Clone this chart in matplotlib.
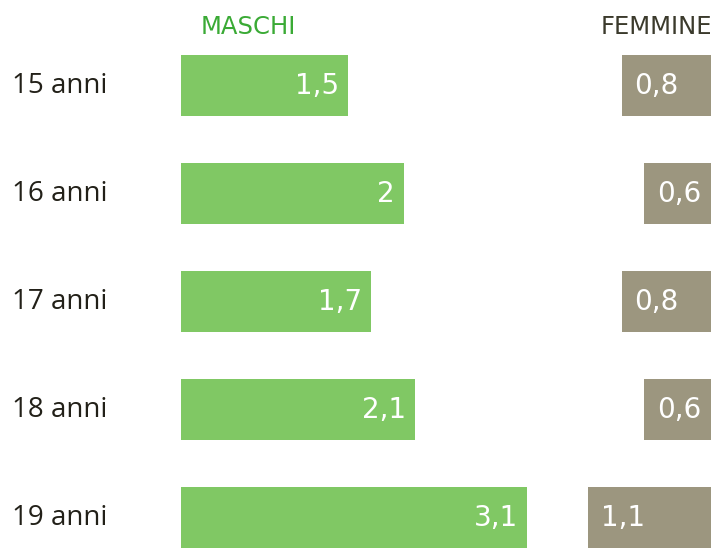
import matplotlib
matplotlib.use("Agg")
import matplotlib.pyplot as plt

# Data
eta = ["15 anni", "16 anni", "17 anni", "18 anni", "19 anni"]
maschi = [1.5, 2.0, 1.7, 2.1, 3.1]
femmine = [0.8, 0.6, 0.8, 0.6, 1.1]
maschi_lbl = ["1,5", "2", "1,7", "2,1", "3,1"]
femmine_lbl = ["0,8", "0,6", "0,8", "0,6", "1,1"]

GREEN = "#80c864"
GREY = "#9c967f"
LABEL_FONT = ["Open Sans", "DejaVu Sans"]
VALUE_FONT = ["DejaVu Sans"]

fig = plt.figure(figsize=(7.14, 5.51), dpi=100)
ax = fig.add_axes([0, 0, 1, 1])
ax.set_xlim(-1.623, 4.78)
ax.set_ylim(4.309, -0.796)
ax.axis("off")

right_edge = 4.753
ypos = list(range(len(eta)))
h = 0.566

ax.barh(ypos, maschi, height=h, left=0, color=GREEN)
ax.barh(ypos, femmine, height=h, left=[right_edge - v for v in femmine], color=GREY)

for y, name, m, ml, f, fl in zip(ypos, eta, maschi, maschi_lbl, femmine, femmine_lbl):
    ax.text(-1.515, y, name, ha="left", va="center", fontsize=20,
            color="#222018", family=LABEL_FONT)
    ax.text(m - 0.08, y, ml, ha="right", va="center", fontsize=20,
            color="white", family=VALUE_FONT)
    ax.text(right_edge - f + 0.115, y, fl, ha="left", va="center", fontsize=20,
            color="white", family=VALUE_FONT)

ax.text(0.6, -0.546, "MASCHI", ha="center", va="center", fontsize=17.5,
        color="#3aaa35", family=VALUE_FONT)
ax.text(4.76, -0.546, "FEMMINE", ha="right", va="center", fontsize=17.5,
        color="#3b3a2c", family=VALUE_FONT)

fig.savefig("out.png", dpi=100)
